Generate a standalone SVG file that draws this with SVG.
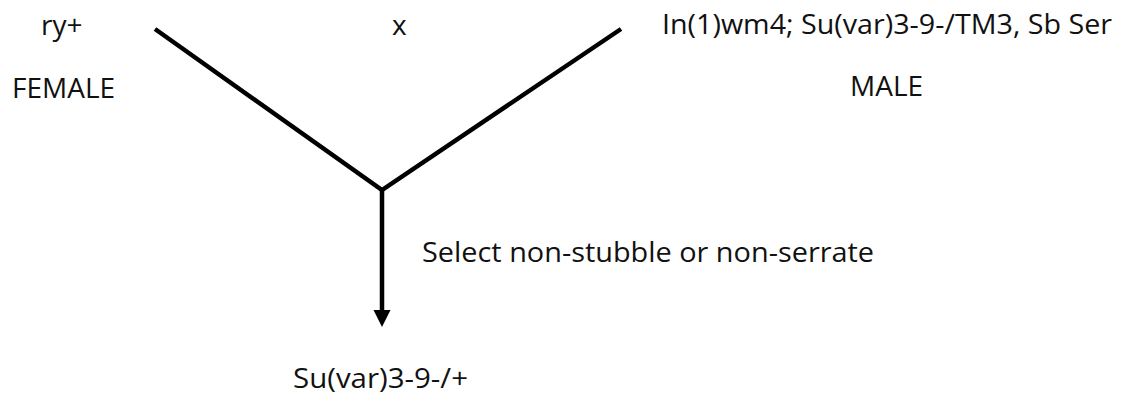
<svg xmlns="http://www.w3.org/2000/svg" width="1132" height="398" viewBox="0 0 1132 398">
  <style>
    .lbl { font-family: "Open Sans", "Liberation Sans", sans-serif; font-size: 28px; fill: #111; }
    .wire { stroke: #000; stroke-width: 4.5; fill: none; stroke-linecap: butt; }
  </style>
  <defs>
    <marker id="head" viewBox="0 0 18 17" refX="9" refY="17" markerUnits="userSpaceOnUse" markerWidth="18" markerHeight="17" orient="auto-start-reverse">
      <path d="M0,0 L18,0 L9,17 Z" fill="#000"/>
    </marker>
  </defs>
  <rect width="1132" height="398" fill="#fff"/>

  <g id="female">
    <text class="lbl" x="41" y="35">ry+</text>
    <text class="lbl" x="12" y="98">FEMALE</text>
  </g>

  <g id="cross">
    <text class="lbl" x="392" y="35">x</text>
  </g>

  <g id="male">
    <text class="lbl" x="662" y="34" textLength="450" lengthAdjust="spacingAndGlyphs">In(1)wm4; Su(var)3-9-/TM3, Sb Ser</text>
    <text class="lbl" x="850" y="96">MALE</text>
  </g>

  <g id="selection">
    <text class="lbl" x="422" y="262" textLength="452" lengthAdjust="spacingAndGlyphs">Select non-stubble or non-serrate</text>
  </g>

  <g id="offspring">
    <text class="lbl" x="293" y="388" textLength="175" lengthAdjust="spacingAndGlyphs">Su(var)3-9-/+</text>
  </g>

  <g id="connectors">
    <polyline class="wire" points="155,29 382,190 621,29"/>
    <line class="wire" x1="382" y1="190" x2="382" y2="312"/>
    <path d="M373.5,310 L390.5,310 L382,327 Z" fill="#000"/>
  </g>
</svg>
